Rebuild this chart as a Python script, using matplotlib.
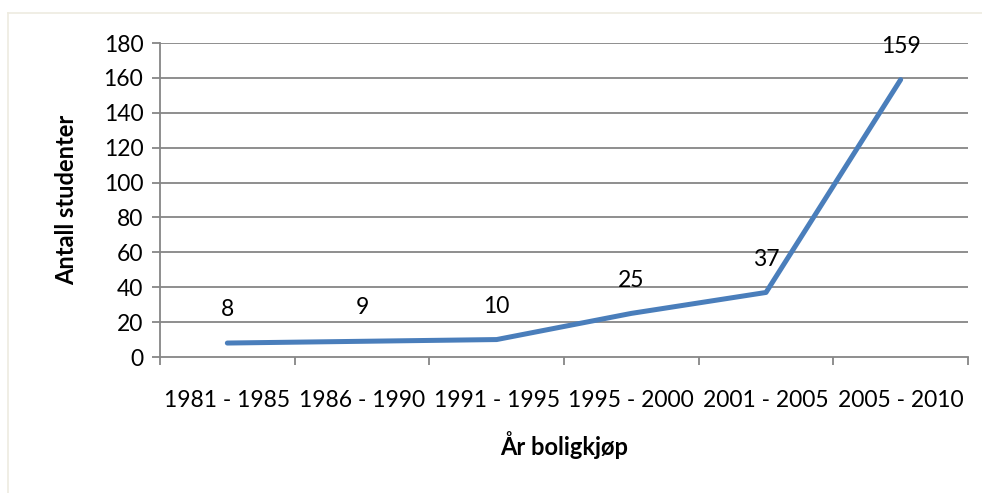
import matplotlib.pyplot as plt
from matplotlib.lines import Line2D

# data
perioder = ['1981 - 1985', '1986 - 1990', '1991 - 1995', '1995 - 2000', '2001 - 2005', '2005 - 2010']
antall = [8, 9, 10, 25, 37, 159]
y_ticks = [0, 20, 40, 60, 80, 100, 120, 140, 160, 180]

plt.rcParams['font.family'] = ['Lato', 'DejaVu Sans']

fig = plt.figure(figsize=(9.82, 4.93), dpi=100)
ax = fig.add_axes([160 / 982, 1 - 357 / 493, 808 / 982, 314 / 493])

grid_col = '#868686'
x = [i + 0.5 for i in range(len(perioder))]
ax.plot(x, antall, color='#4A7EBB', lw=3.6, solid_capstyle='round', solid_joinstyle='round', zorder=3)

for xi, v in zip(x, antall):
    ax.annotate(str(v), (xi, v), xytext=(0, 24), textcoords='offset points',
                ha='center', va='center', fontsize=16.5, color='black', zorder=4)

ax.set_xlim(0, len(perioder))
ax.set_ylim(0, 180)
ax.set_yticks(y_ticks)
ax.set_yticklabels([str(t) for t in y_ticks], fontsize=16.5)
for t in y_ticks[1:]:
    ax.axhline(t, color=grid_col, lw=1.3, zorder=1)

# category ticks on the boundaries, labels in the middle
ax.set_xticks(range(len(perioder) + 1))
ax.set_xticklabels([])
ax.set_xticks(x, minor=True)
ax.set_xticklabels(perioder, minor=True, fontsize=16.5)
ax.tick_params(axis='x', which='minor', length=0, pad=24)
ax.tick_params(axis='x', which='major', length=6, width=1.3, color=grid_col)
ax.tick_params(axis='y', length=6, width=1.3, color=grid_col, pad=6)

for s in ['top', 'right']:
    ax.spines[s].set_visible(False)
for s in ['left', 'bottom']:
    ax.spines[s].set_color(grid_col)
    ax.spines[s].set_linewidth(1.3)

ax.set_ylabel('Antall studenter', fontsize=17, fontweight='bold', labelpad=18)
ax.set_xlabel('År boligkjøp', fontsize=17, fontweight='bold', labelpad=14)

# light chart border
fig.add_artist(Line2D([8 / 982, 8 / 982], [0, 1 - 13 / 493], transform=fig.transFigure, color='#EEEBE0', lw=1.2))
fig.add_artist(Line2D([8 / 982, 1], [1 - 13 / 493, 1 - 13 / 493], transform=fig.transFigure, color='#EEEBE0', lw=1.2))

fig.savefig('out.png', dpi=100)
